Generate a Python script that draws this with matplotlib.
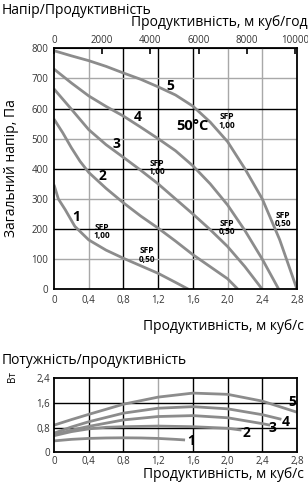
import matplotlib
matplotlib.use("Agg")
import matplotlib.pyplot as plt

plt.rcParams['font.family'] = ['Open Sans', 'DejaVu Sans']

# Напір / продуктивність (м куб/с -> Па)
q1 = [0, 0.05, 0.13, 0.24, 0.4, 0.6, 0.8, 1.0, 1.2, 1.4, 1.55]
p1 = [347, 300, 264, 209, 164, 130, 103, 78, 53, 23, 0]
q2 = [0, 0.1, 0.2, 0.3, 0.4, 0.6, 0.8, 1.0, 1.2, 1.4, 1.6, 1.8, 2.0, 2.12]
p2 = [565, 520, 470, 425, 388, 335, 287, 243, 203, 160, 115, 75, 35, 0]
q3 = [0, 0.2, 0.4, 0.6, 0.8, 1.0, 1.2, 1.4, 1.6, 1.8, 2.0, 2.2, 2.4]
p3 = [665, 598, 530, 480, 438, 395, 350, 300, 250, 198, 142, 75, 0]
q4 = [0, 0.2, 0.4, 0.6, 0.8, 1.0, 1.2, 1.4, 1.6, 1.8, 2.0, 2.2, 2.4, 2.59]
p4 = [731, 685, 642, 607, 575, 538, 500, 460, 410, 350, 280, 195, 100, 0]
q5 = [0, 0.2, 0.4, 0.6, 0.8, 1.0, 1.2, 1.4, 1.6, 1.8, 2.0, 2.2, 2.4, 2.6, 2.8]
p5 = [792, 775, 759, 740, 718, 697, 672, 645, 608, 555, 490, 400, 300, 165, 0]

# Потужність / продуктивність
w1x = [0, 0.2, 0.4, 0.6, 0.8, 1.0, 1.2, 1.4, 1.51]
w1 = [0.37, 0.42, 0.45, 0.465, 0.47, 0.465, 0.45, 0.42, 0.40]
w2x = [0, 0.2, 0.4, 0.6, 0.8, 1.2, 1.6, 2.0, 2.16]
w2 = [0.54, 0.67, 0.76, 0.81, 0.83, 0.85, 0.83, 0.78, 0.72]
w3x = [0, 0.2, 0.4, 0.8, 1.2, 1.6, 2.0, 2.4, 2.49]
w3 = [0.56, 0.72, 0.84, 1.05, 1.16, 1.19, 1.12, 0.93, 0.88]
w4x = [0, 0.2, 0.4, 0.8, 1.2, 1.6, 2.0, 2.4, 2.62]
w4 = [0.62, 0.82, 0.99, 1.27, 1.43, 1.48, 1.41, 1.22, 1.07]
w5x = [0, 0.2, 0.4, 0.8, 1.2, 1.6, 2.0, 2.4, 2.8]
w5 = [0.88, 1.06, 1.23, 1.56, 1.79, 1.92, 1.88, 1.66, 1.30]

xticks = [0, 0.4, 0.8, 1.2, 1.6, 2.0, 2.4, 2.8]
xlabels = ['0', '0,4', '0,8', '1,2', '1,6', '2,0', '2,4', '2,8']
yticks_top = [0, 100, 200, 300, 400, 500, 600, 700, 800]
topticks = [0, 2000, 4000, 6000, 8000, 10000]
yticks_bot = [0, 0.8, 1.6, 2.4]
ylabels_bot = ['0', '0,8', '1,6', '2,4']

curve_num_top = [('1', 0.25, 241), ('2', 0.56, 375), ('3', 0.72, 481),
                 ('4', 0.97, 571), ('5', 1.34, 675)]
sfp_top = [('SFP\n1,00', 1.99, 559), ('SFP\n1,00', 1.18, 404), ('SFP\n1,00', 0.55, 192),
           ('SFP\n0,50', 1.07, 114), ('SFP\n0,50', 1.99, 204), ('SFP\n0,50', 2.635, 231)]
curve_num_bot = [('1', 1.575, 0.37), ('2', 2.22, 0.63), ('3', 2.52, 0.80),
                 ('4', 2.67, 0.98), ('5', 2.75, 1.64)]

line_c = '#8c8c8c'
grid_grey = '#a8a8a8'
tick_c = '#333333'
lab_fs = 10

fig = plt.figure(figsize=(3.08, 5.0), dpi=100)

# ---------- верхній графік ----------
ax = fig.add_axes([54 / 308, 1 - 289.3 / 500, 243 / 308, 241 / 500])
ax.set_xlim(0, 2.8)
ax.set_ylim(0, 800)
for v in xticks[1:-1]:
    c = 'black' if v in (0.8, 1.2, 1.6) else grid_grey
    ax.axvline(v, color=c, lw=1.0, zorder=1)
for v in yticks_top[1:-1]:
    c = 'black' if v % 200 == 0 else grid_grey
    ax.axhline(v, color=c, lw=1.0, zorder=1)
for q, p in [(q1, p1), (q2, p2), (q3, p3), (q4, p4), (q5, p5)]:
    ax.plot(q, p, color=line_c, lw=2.0, zorder=2, solid_capstyle='butt')
ax.set_xticks(xticks)
ax.set_xticklabels(xlabels)
ax.set_yticks(yticks_top)
ax.tick_params(length=0, labelsize=7, labelcolor=tick_c, pad=4)
for s in ax.spines.values():
    s.set_linewidth(1.3)
for t, x, y in curve_num_top:
    ax.text(x, y, t, fontsize=10, fontweight='bold', ha='center', va='center')
for t, x, y in sfp_top:
    ax.text(x, y, t, fontsize=6, fontweight='bold', ha='center', va='center',
            linespacing=0.9)
ax.text(1.59, 542, '50°C', fontsize=10.5, fontweight='bold', ha='center', va='center')

sec = ax.secondary_xaxis('top', functions=(lambda x: x * 3600, lambda x: x / 3600))
sec.set_xticks(topticks)
sec.set_xticklabels([str(v) for v in topticks])
sec.tick_params(direction='in', length=4, width=1.2, labelsize=7,
                labelcolor=tick_c, pad=2)

fig.text(0.006, 1 - 10 / 500, 'Напір/Продуктивність', fontsize=lab_fs, va='center')
fig.text(0.998, 1 - 23 / 500, 'Продуктивність, м куб/год', fontsize=lab_fs,
         va='center', ha='right')
fig.text(12 / 308, 1 - 168 / 500, 'Загальний напір, Па', fontsize=lab_fs,
         rotation=90, va='center', ha='center')
fig.text(0.985, 1 - 327 / 500, 'Продуктивність, м куб/с', fontsize=lab_fs,
         va='center', ha='right')

# ---------- нижній графік ----------
bx = fig.add_axes([54 / 308, 1 - 452.3 / 500, 243 / 308, 74 / 500])
bx.set_xlim(0, 2.8)
bx.set_ylim(0, 2.4)
for v in xticks[1:-1]:
    c = grid_grey if v == 1.2 else 'black'
    bx.axvline(v, color=c, lw=1.0, zorder=1)
for v in yticks_bot[1:-1]:
    bx.axhline(v, color='black', lw=1.0, zorder=1)
for q, w in [(w1x, w1), (w2x, w2), (w3x, w3), (w4x, w4), (w5x, w5)]:
    bx.plot(q, w, color=line_c, lw=2.0, zorder=2, solid_capstyle='butt')
bx.set_xticks(xticks)
bx.set_xticklabels(xlabels)
bx.set_yticks(yticks_bot)
bx.set_yticklabels(ylabels_bot)
bx.tick_params(length=0, labelsize=7, labelcolor=tick_c, pad=3)
for s in bx.spines.values():
    s.set_linewidth(1.3)
for t, x, y in curve_num_bot:
    bx.text(x, y, t, fontsize=10, fontweight='bold', ha='center', va='center',
            clip_on=False)

fig.text(0.006, 1 - 360 / 500, 'Потужність/продуктивність', fontsize=lab_fs, va='center')
fig.text(12 / 308, 1 - 377 / 500, 'Вт', fontsize=7, rotation=90,
         va='center', ha='center')
fig.text(0.985, 1 - 475 / 500, 'Продуктивність, м куб/с', fontsize=lab_fs,
         va='center', ha='right')

fig.savefig('out.png', dpi=100)
